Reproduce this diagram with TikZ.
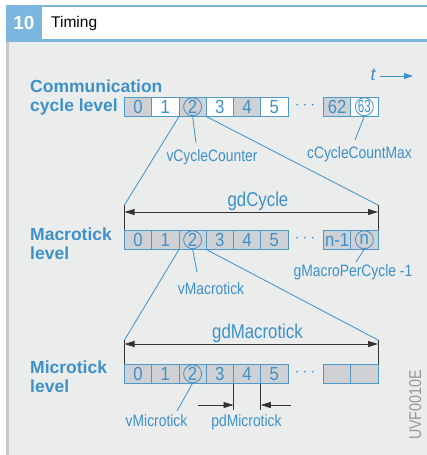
\documentclass[tikz,border=0pt]{standalone}
\usepackage{fontspec}
\setmainfont{Liberation Sans}
\newfontfamily\lblfont[FakeStretch=0.84]{Liberation Sans}
\newfontfamily\digfont[FakeStretch=0.88]{Liberation Sans}
\newfontfamily\narrowdig[FakeStretch=0.66]{Liberation Sans}
\usetikzlibrary{arrows.meta,calc}
\definecolor{hblue}{RGB}{122,182,221}
\definecolor{tblue}{RGB}{62,145,200}
\definecolor{cellblue}{RGB}{78,152,204}
\definecolor{bggray}{RGB}{235,236,236}
\definecolor{cellgray}{RGB}{207,209,212}
\definecolor{edgegray}{RGB}{200,200,200}
\definecolor{codegray}{RGB}{150,150,150}
\tikzset{
  cell/.style={draw=cellblue, line width=0.9pt, fill=cellgray, minimum width=27.25pt, minimum height=19.5pt, inner sep=0pt, outer sep=0pt, anchor=north west, text=tblue, font=\fontsize{19}{19}\digfont},
  wcell/.style={cell, fill=white},
  ring/.style={circle, draw=tblue, line width=0.8pt, minimum size=18pt, inner sep=0pt},
  lvl/.style={font=\fontsize{17.5}{19}\selectfont\bfseries, text=tblue, anchor=base west, inner sep=0pt},
  small/.style={font=\fontsize{16.5}{18}\lblfont, text=tblue, anchor=base, inner sep=0pt},
  big/.style={font=\fontsize{20}{20}\lblfont, text=tblue, anchor=base, inner sep=0pt},
  bline/.style={draw=tblue, line width=0.8pt},
  kline/.style={draw=black!80, line width=0.8pt},
  dim/.style={kline, {Triangle[length=10pt,width=6pt]}-{Triangle[length=10pt,width=6pt]}},
  half/.style={kline, -{Triangle[length=10pt,width=6pt]}},
  dotsn/.style={text=tblue, inner sep=0pt, font=\fontsize{18}{18}\selectfont},
}
\begin{document}
\begin{tikzpicture}[x=1pt,y=-1pt]
\useasboundingbox (0,0) rectangle (427,455);
% frame
\fill[hblue] (6,5) rectangle (427,41.5);
\fill[white] (42,7) rectangle (427,39);
\fill[bggray] (6,41.5) rectangle (427,455);
\fill[edgegray] (6,41.5) rectangle (8.5,455);
\node[text=white, font=\fontsize{19}{19}\selectfont\bfseries, inner sep=0pt] (num) at (24,23) {10};
\node[anchor=west, font=\fontsize{15.5}{15.5}\selectfont, inner sep=0pt] (title) at (51,23) {Timing};
% time arrow
\node[text=tblue, font=\fontsize{18}{18}\selectfont\itshape, anchor=base, inner sep=0pt] (t) at (373,80) {t};
\coordinate (ta) at (380,76);
\coordinate (tb) at (413,76);
\draw[bline, -{Triangle[length=9pt,width=6pt]}] (ta) -- (tb);
% level labels
\node[lvl] (l1a) at (30,92) {Communication};
\node[lvl] (l1b) at (30,111) {cycle level};
\node[lvl] (l2a) at (30,240) {Macrotick};
\node[lvl] (l2b) at (30,259) {level};
\node[lvl] (l3a) at (30,373) {Microtick};
\node[lvl] (l3b) at (30,392) {level};
% row 1
\node[cell]  (r1c0) at (124.5,97) {0};
\node[wcell] (r1c1) at (151.75,97) {1};
\node[cell]  (r1c2) at (179,97) {2};
\node[wcell] (r1c3) at (206.25,97) {3};
\node[cell]  (r1c4) at (233.5,97) {4};
\node[wcell] (r1c5) at (260.75,97) {5};
\node[dotsn] (d1) at (305,106) {$\cdots$};
\node[cell]  (r1a) at (323.5,97) {62};
\node[wcell, font=\fontsize{17.5}{17.5}\narrowdig] (r1b) at (350.75,97) {63};
\node[ring] (o1) at (r1c2.center) {};
\node[ring] (o1b) at (r1b.center) {};
% row 2
\node[cell] (r2c0) at (124.5,230) {0};
\node[cell] (r2c1) at (151.75,230) {1};
\node[cell] (r2c2) at (179,230) {2};
\node[cell] (r2c3) at (206.25,230) {3};
\node[cell] (r2c4) at (233.5,230) {4};
\node[cell] (r2c5) at (260.75,230) {5};
\node[dotsn] (d2) at (305,239) {$\cdots$};
\node[cell] (r2a) at (323.5,230) {n-1};
\node[cell] (r2b) at (350.75,230) {n};
\node[ring] (o2) at (r2c2.center) {};
\node[ring] (o2b) at (r2b.center) {};
% row 3
\node[cell] (r3c0) at (124.5,364) {0};
\node[cell] (r3c1) at (151.75,364) {1};
\node[cell] (r3c2) at (179,364) {2};
\node[cell] (r3c3) at (206.25,364) {3};
\node[cell] (r3c4) at (233.5,364) {4};
\node[cell] (r3c5) at (260.75,364) {5};
\node[dotsn] (d3) at (305,373) {$\cdots$};
\node[cell] (r3a) at (323.5,364) {};
\node[cell] (r3b) at (350.75,364) {};
\node[ring] (o3) at (r3c2.center) {};
% labels
\node[small] (vcc) at (212,161.5) {vCycleCounter};
\node[small] (ccm) at (359.5,158) {cCycleCountMax};
\node[big] (gdc) at (258,206) {gdCycle};
\node[small] (vmt) at (211,294) {vMacrotick};
\node[small] (gmp) at (353,276) {gMacroPerCycle -1};
\node[big] (gdm) at (257.5,338) {gdMacrotick};
\node[small] (vmi) at (156.5,426) {vMicrotick};
\node[small] (pdm) at (246.5,426) {pdMicrotick};
\node[text=codegray, font=\fontsize{17}{17}\lblfont, rotate=90, anchor=base, inner sep=0pt] (code) at (421,405) {UVF0010E};
% label leaders
\coordinate (vccE) at (196,143);
\coordinate (ccmE) at (355,140);
\coordinate (vmtE) at (197,272);
\coordinate (gmpE) at (356,262);
\coordinate (vmiE) at (177,411);
\draw[bline] (o1.south) -- (vccE);
\draw[bline] (o1b.south) -- (ccmE);
\draw[bline] (o2.south) -- (vmtE);
\draw[bline] (o2b.south) -- (gmpE);
\draw[bline] (o3.south) -- (vmiE);
% zoom lines
\coordinate (gcL) at (124.5,205);
\coordinate (gcR) at (378,205);
\coordinate (gmL) at (124.5,340);
\coordinate (gmR) at (378,340);
\draw[bline] (r1c2.south west) -- (gcL);
\draw[bline] (r1c2.south east) -- (gcR);
\draw[bline] (r2c2.south west) -- (gmL);
\draw[bline] (r2c2.south east) -- (gmR);
\draw[kline] (gcL) -- (r2c0.north west);
\draw[kline] (gcR) -- (r2b.north east);
\draw[kline] (gmL) -- (r3c0.north west);
\draw[kline] (gmR) -- (r3b.north east);
\coordinate (gcA) at (124.5,212);
\coordinate (gcB) at (378,212);
\coordinate (gmA) at (124.5,344);
\coordinate (gmB) at (378,344);
\draw[dim] (gcA) -- (gcB);
\draw[dim] (gmA) -- (gmB);
% pdMicrotick
\coordinate (p1) at (233.5,410);
\coordinate (p2) at (260.75,410);
\coordinate (pa) at (198,405);
\coordinate (pb) at (233.5,405);
\coordinate (pc) at (291,405);
\coordinate (pd) at (260.75,405);
\draw[kline] (r3c4.south west) -- (p1);
\draw[kline] (r3c4.south east) -- (p2);
\draw[half] (pa) -- (pb);
\draw[half] (pc) -- (pd);
\end{tikzpicture}
\end{document}
